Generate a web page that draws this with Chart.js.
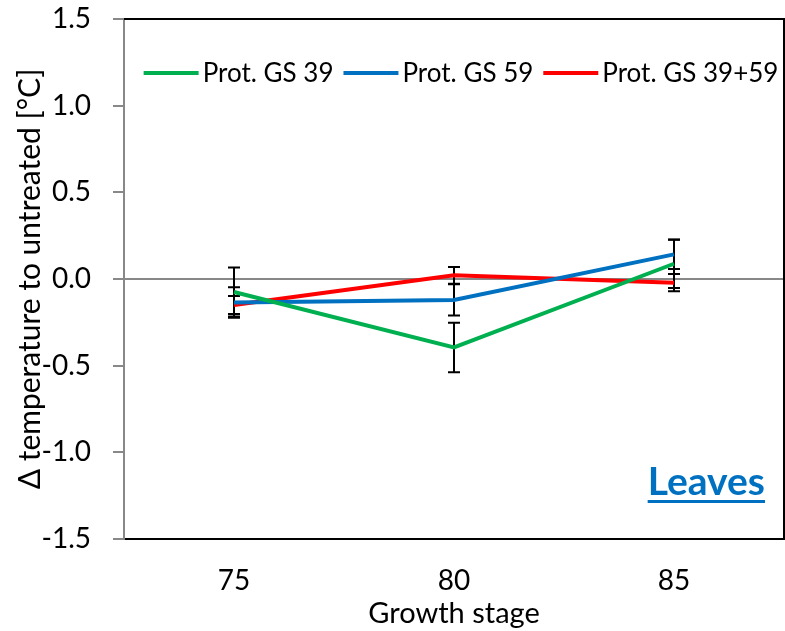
<!DOCTYPE html>
<html>
<head>
<meta charset="utf-8">
<script src="https://cdn.jsdelivr.net/npm/chart.js@4"></script>
<style>
html,body{margin:0;padding:0;background:#fff;}
#wrap{width:785px;height:631px;position:relative;}
</style>
</head>
<body>
<div id="wrap"><canvas id="c"></canvas></div>
<script>
const categories = ['75', '80', '85'];
const seriesNames = ['Prot. GS 39', 'Prot. GS 59', 'Prot. GS 39+59'];
const gs39 = [-0.075, -0.395, 0.088];
const gs59 = [-0.135, -0.121, 0.142];
const gs3959 = [-0.150, 0.021, -0.021];
const err39 = [0.142, 0.143, 0.140];
const err59 = [0.088, 0.090, 0.085];
const err3959 = [0.052, 0.048, 0.050];
const yTicks = [-1.5, -1.0, -0.5, 0.0, 0.5, 1.0, 1.5];
const panelLabel = 'Leaves';
const xTitle = 'Growth stage';
const yTitle = 'Δ temperature to untreated [°C]';

const FONT = 'Lato, Calibri, "Open Sans", sans-serif';
const FS = 28;
const colors = ['#00B050', '#0070C0', '#FF0000'];
const seriesValues = [gs39, gs59, gs3959];
const seriesErrors = [err39, err59, err3959];

const errorBars = {
  id: 'errorBars',
  beforeDatasetsDraw(chart) {
    const ctx = chart.ctx, xs = chart.scales.x, ys = chart.scales.y;
    ctx.save();
    ctx.strokeStyle = '#000';
    ctx.lineWidth = 2;
    seriesValues.forEach((vals, si) => {
      vals.forEach((v, i) => {
        const e = seriesErrors[si][i];
        const x = xs.getPixelForValue(i);
        const yT = ys.getPixelForValue(v + e);
        const yB = ys.getPixelForValue(v - e);
        ctx.beginPath();
        ctx.moveTo(x, yT); ctx.lineTo(x, yB);
        ctx.moveTo(x - 6, yT); ctx.lineTo(x + 6, yT);
        ctx.moveTo(x - 6, yB); ctx.lineTo(x + 6, yB);
        ctx.stroke();
      });
    });
    ctx.restore();
  }
};

const frame = {
  id: 'frame',
  beforeDatasetsDraw(chart) {
    const {ctx, chartArea: a} = chart;
    ctx.save();
    ctx.strokeStyle = '#000';
    ctx.lineWidth = 2;
    ctx.beginPath();
    ctx.moveTo(a.left, a.top); ctx.lineTo(a.right, a.top); ctx.lineTo(a.right, a.bottom);
    ctx.stroke();
    ctx.restore();
  },
  afterDraw(chart) {
    const {ctx, chartArea: a} = chart;
    ctx.save();
    // legend
    ctx.font = '26px ' + FONT;
    ctx.textBaseline = 'middle';
    ctx.textAlign = 'left';
    const lineLen = 55, gapText = 4, gapItem = 10;
    const ds = chart.data.datasets;
    const widths = ds.map(d => ctx.measureText(d.label).width);
    let total = 0;
    widths.forEach((w, i) => { total += lineLen + gapText + w + (i < widths.length - 1 ? gapItem : 0); });
    let x = 461 - total / 2;
    const y = a.top + 54;
    ds.forEach((d, i) => {
      ctx.strokeStyle = d.borderColor;
      ctx.lineWidth = 4;
      ctx.beginPath();
      ctx.moveTo(x, y); ctx.lineTo(x + lineLen, y);
      ctx.stroke();
      x += lineLen + gapText;
      ctx.fillStyle = '#000';
      ctx.fillText(d.label, x, y + 1);
      x += widths[i] + gapItem;
    });
    // panel label
    ctx.font = 'bold 39px ' + FONT;
    ctx.fillStyle = '#0070C0';
    ctx.textAlign = 'right';
    ctx.textBaseline = 'alphabetic';
    const xr = a.right - 19, yb = 495;
    ctx.fillText(panelLabel, xr, yb);
    const w = ctx.measureText(panelLabel).width;
    ctx.fillRect(xr - w, yb + 5, w, 3);
    ctx.restore();
  }
};

new Chart(document.getElementById('c'), {
  type: 'line',
  data: {
    labels: categories,
    datasets: seriesValues.map((vals, i) => ({
      label: seriesNames[i],
      data: vals,
      borderColor: colors[i],
      backgroundColor: colors[i],
      borderWidth: 4,
      pointRadius: 0,
      pointHoverRadius: 0,
      tension: 0,
      fill: false
    }))
  },
  options: {
    responsive: true,
    maintainAspectRatio: false,
    animation: false,
    events: [],
    layout: {autoPadding: false, padding: {top: 19, right: 1, left: 0, bottom: 0}},
    plugins: {
      tooltip: {enabled: false},
      legend: {display: false}
    },
    scales: {
      x: {
        type: 'category',
        offset: true,
        grid: {display: false},
        border: {display: true, color: '#000', width: 2},
        ticks: {color: '#000', padding: 17, font: {family: FONT, size: FS}},
        title: {display: true, text: xTitle, color: '#000', padding: {top: 0, bottom: 0}, font: {family: FONT, size: 29}},
        afterFit(s) { s.height = 92; s.paddingLeft = 0; s.paddingRight = 0; }
      },
      y: {
        type: 'linear',
        min: yTicks[0],
        max: yTicks[yTicks.length - 1],
        afterBuildTicks(s) { s.ticks = yTicks.map(v => ({value: v})); },
        grid: {
          drawOnChartArea: true,
          color: (c) => (c.tick && c.tick.value === 0) ? '#888888' : 'rgba(0,0,0,0)',
          lineWidth: 2,
          tickColor: '#888888',
          tickLength: 11,
          drawTicks: true
        },
        border: {display: true, color: '#888888', width: 2},
        ticks: {color: '#000', padding: 22, font: {family: FONT, size: FS},
          callback: (v) => Number(v).toFixed(1)},
        title: {display: true, text: yTitle, color: '#000', padding: {top: 12, bottom: 0}, font: {family: FONT, size: 30}},
        afterFit(s) { s.width = 124; s.paddingTop = 0; s.paddingBottom = 0; }
      }
    }
  },
  plugins: [errorBars, frame]
});
</script>
</body>
</html>
